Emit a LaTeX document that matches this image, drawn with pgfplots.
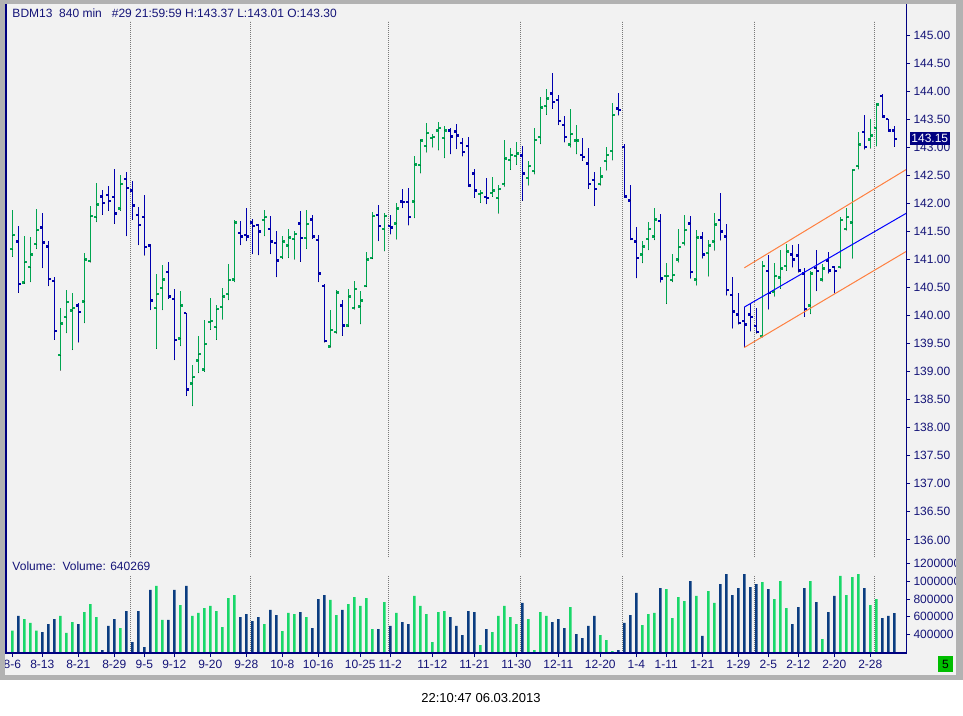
\documentclass[border=0pt]{standalone}
\usepackage{pgfplots}
\usepackage{pgfplotstable}
\pgfplotsset{compat=1.18}
\usepackage{fontspec}
\setmainfont{Liberation Sans}

\definecolor{bg}{RGB}{242,242,242}
\definecolor{bordergray}{RGB}{178,178,178}
\definecolor{pgreen}{RGB}{0,165,80}
\definecolor{pblue}{RGB}{0,0,175}
\definecolor{vgreen}{RGB}{25,215,105}
\definecolor{vblue}{RGB}{10,60,128}
\definecolor{axnavy}{RGB}{0,0,128}
\definecolor{tnavy}{RGB}{20,20,120}
\definecolor{lblnavy}{RGB}{0,0,128}
\definecolor{trendblue}{RGB}{0,0,255}
\definecolor{trendorange}{RGB}{255,128,64}
\definecolor{gridgray}{RGB}{120,120,120}
\definecolor{boxgreen}{RGB}{0,190,0}

\pgfplotstableread{
i O H L C up vu vol
0 141.18 141.88 141.05 141.43 1 1 441000
1 141.32 141.60 140.41 140.56 0 0 607000
2 140.59 141.42 140.57 140.95 1 1 573000
3 140.86 141.40 140.60 141.09 1 1 528000
4 141.27 141.90 141.19 141.52 1 1 441000
5 141.57 141.83 140.85 141.30 0 0 426000
6 141.23 141.33 140.53 140.65 0 0 516000
7 140.61 140.69 139.57 139.72 0 0 573000
8 139.29 140.13 139.02 139.86 1 1 607000
9 139.97 140.46 139.69 140.24 1 1 415000
10 140.09 140.40 139.39 140.13 1 1 539000
11 140.18 140.22 139.52 140.06 0 0 516000
12 140.25 141.11 139.87 141.00 1 1 652000
13 140.97 141.95 140.95 141.77 1 1 742000
14 141.75 142.36 141.67 141.98 1 1 595000
15 142.12 142.24 141.80 142.00 0 0 222000
16 142.15 142.31 141.87 142.04 0 0 494000
17 142.11 142.61 141.64 141.82 0 0 573000
18 141.91 142.51 141.87 142.34 1 1 471000
19 142.43 142.56 141.42 142.27 0 0 663000
20 142.23 142.40 141.71 141.96 0 0 313000
21 141.79 141.93 141.26 141.61 0 0 663000
22 141.75 142.15 141.07 141.22 0 0 256000
23 141.25 141.27 140.10 140.27 0 0 901000
24 140.13 140.74 139.41 140.38 1 1 946000
25 140.49 140.90 140.10 140.64 1 1 562000
26 140.77 140.95 140.30 140.34 0 0 562000
27 140.29 140.47 139.21 139.56 0 0 901000
28 139.59 140.44 139.46 140.18 1 1 731000
29 140.04 140.05 138.57 138.68 0 0 946000
30 138.79 139.12 138.39 138.90 1 1 607000
31 139.20 139.63 138.98 139.31 1 1 641000
32 139.04 139.92 139.00 139.49 1 1 697000
33 139.88 140.31 139.75 139.90 1 1 720000
34 139.79 140.19 139.57 140.11 1 1 663000
35 140.15 140.49 139.93 140.34 1 1 482000
36 140.38 140.92 140.28 140.63 1 1 810000
37 140.64 141.70 140.60 141.66 1 1 844000
38 141.47 141.68 141.26 141.41 0 0 595000
39 141.43 141.92 141.33 141.41 0 0 629000
40 141.66 141.72 141.10 141.59 0 0 550000
41 141.61 141.64 141.08 141.50 0 0 595000
42 141.70 141.88 141.42 141.75 1 1 516000
43 141.54 141.77 141.10 141.32 0 0 675000
44 141.29 141.50 140.69 140.98 0 0 618000
45 141.04 141.41 141.01 141.32 1 1 437000
46 141.25 141.54 141.03 141.39 1 1 641000
47 141.36 141.50 141.00 141.45 1 1 629000
48 141.64 141.86 140.96 141.38 0 0 652000
49 141.38 141.88 141.19 141.63 1 1 595000
50 141.71 141.79 141.37 141.41 0 0 471000
51 141.34 141.43 140.60 140.75 0 0 799000
52 140.52 140.56 139.52 139.54 0 0 844000
53 139.45 140.09 139.43 139.74 1 1 788000
54 139.70 140.46 139.68 140.41 1 1 618000
55 140.18 140.27 139.64 139.82 0 0 675000
56 139.82 140.47 139.80 140.34 1 1 742000
57 140.14 140.61 140.11 140.47 1 1 821000
58 140.16 140.44 139.85 140.27 1 1 720000
59 140.52 141.13 140.51 141.00 1 1 810000
60 141.02 141.84 141.01 141.77 1 1 460000
61 141.79 141.97 141.33 141.59 0 0 460000
62 141.54 141.83 141.15 141.77 1 1 765000
63 141.59 141.79 141.45 141.57 0 0 494000
64 141.64 142.00 141.36 141.91 1 1 641000
65 142.03 142.25 141.92 142.02 0 0 539000
66 142.02 142.27 141.61 141.75 0 0 516000
67 142.03 142.84 141.74 142.69 1 1 833000
68 142.68 143.15 142.54 143.12 1 1 720000
69 143.02 143.43 142.91 143.25 1 1 629000
70 143.16 143.24 143.00 143.18 1 1 313000
71 143.30 143.45 142.95 143.34 1 1 652000
72 143.16 143.38 142.81 143.30 1 1 663000
73 143.30 143.34 142.88 143.19 0 0 595000
74 143.28 143.41 142.97 143.21 0 0 494000
75 143.07 143.16 142.84 142.91 0 0 392000
76 143.02 143.18 142.30 142.32 0 0 663000
77 142.53 142.61 142.10 142.23 0 0 652000
78 142.16 142.23 142.01 142.18 1 1 279000
79 142.11 142.45 141.99 142.09 0 0 460000
80 142.19 142.47 142.12 142.23 1 1 426000
81 142.09 142.32 141.82 142.25 1 1 607000
82 142.35 143.13 142.30 142.80 1 1 720000
83 142.77 142.99 142.60 142.86 1 1 595000
84 142.84 143.09 142.69 142.89 1 1 516000
85 142.85 143.02 142.05 142.53 0 0 754000
86 142.45 142.75 142.32 142.66 1 1 573000
87 142.57 143.34 142.52 143.13 1 1 222000
88 143.18 143.89 143.06 143.71 1 1 652000
89 143.73 144.04 143.58 143.87 1 1 607000
90 143.96 144.32 143.69 143.80 0 0 539000
91 143.84 143.93 143.40 143.47 0 0 573000
92 143.39 143.56 143.09 143.18 0 0 471000
93 143.05 143.69 143.00 143.23 1 1 708000
94 143.12 143.40 142.88 143.12 1 0 403000
95 142.86 143.16 142.76 142.82 0 0 358000
96 142.71 142.99 142.26 142.34 0 0 494000
97 142.41 142.56 141.96 142.25 0 0 607000
98 142.34 142.65 142.32 142.48 1 1 392000
99 142.75 143.00 142.59 142.86 1 1 335000
100 142.93 143.79 142.77 143.57 1 1 211000
101 143.69 143.97 143.57 143.66 0 0 222000
102 143.00 143.06 142.10 142.12 0 0 528000
103 142.05 142.32 141.35 141.36 0 0 618000
104 141.32 141.58 140.67 141.02 0 0 867000
105 141.09 141.33 140.94 141.23 1 1 505000
106 141.36 141.67 141.17 141.54 1 1 629000
107 141.41 141.92 141.35 141.71 1 1 641000
108 141.68 141.81 140.59 140.66 0 0 923000
109 140.70 140.94 140.21 140.70 1 1 912000
110 140.63 141.10 140.60 140.72 1 1 584000
111 141.00 141.54 140.95 141.22 1 1 821000
112 141.29 141.79 141.25 141.52 1 1 776000
113 141.64 141.77 140.66 140.77 0 0 1002000
114 140.64 141.52 140.54 141.39 1 1 833000
115 141.39 141.48 141.02 141.09 0 0 381000
116 141.11 141.35 140.70 141.25 1 1 889000
117 141.32 141.83 141.16 141.62 1 1 754000
118 141.70 142.18 141.34 141.50 0 0 968000
119 141.41 141.63 140.36 140.45 0 0 1081000
120 140.36 140.69 139.77 140.07 0 0 844000
121 140.02 140.41 139.84 139.87 0 0 923000
122 139.90 140.15 139.43 139.84 0 0 1081000
123 140.02 140.22 139.72 139.97 0 0 934000
124 139.81 140.13 139.68 139.70 0 0 968000
125 139.63 140.97 139.61 140.88 1 1 991000
126 140.79 141.07 140.11 140.40 0 0 912000
127 140.43 140.93 140.34 140.70 1 1 799000
128 140.68 141.16 140.48 140.84 1 1 1002000
129 140.88 141.27 140.80 141.14 1 1 697000
130 141.09 141.25 140.86 141.00 0 0 516000
131 141.07 141.27 140.77 140.80 0 0 708000
132 140.75 140.84 139.98 140.11 0 0 923000
133 140.18 140.79 140.03 140.75 1 1 1002000
134 140.85 141.17 140.44 140.79 0 0 765000
135 140.64 140.92 140.61 140.84 1 1 347000
136 140.98 141.13 140.75 140.80 0 0 652000
137 140.86 140.88 140.40 140.79 0 0 833000
138 140.86 141.76 140.84 141.70 1 1 1059000
139 141.54 141.91 141.52 141.75 1 1 844000
140 141.66 142.61 141.02 142.59 1 1 1047000
141 142.66 143.27 142.61 143.05 1 1 1081000
142 143.27 143.57 142.96 143.00 0 0 923000
143 143.14 143.50 142.98 143.21 1 1 731000
144 143.34 143.78 143.02 143.76 1 1 799000
145 143.91 143.95 143.53 143.55 0 0 584000
146 143.50 143.50 143.28 143.30 0 0 607000
147 143.30 143.37 143.01 143.15 0 0 640269
}\bars

\pgfplotsset{
  every axis/.append style={
    scale only axis,
    axis line style={draw=none},
    clip mode=individual,
    tick align=outside,
    major tick length=4pt,
    tick style={draw=axnavy, line width=0.8pt},
    tick label style={font=\fontsize{12}{14}\selectfont, text=tnavy},
    /pgf/number format/assume math mode=true,
  },
  ohlc/.style={only marks, mark=*, mark size=0.01pt, mark options={draw=none, fill=none}},
}

\begin{document}
\begin{tikzpicture}[x=1pt,y=1pt]
\path[use as bounding box] (0,0) rectangle (963,-715);
\fill[white] (0,0) rectangle (963,-715);
\fill[bg] (0,0) rectangle (963,-680);

% ---------------- price panel ----------------
\begin{axis}[
  at={(6pt,-557pt)}, anchor=south west,
  width=900pt, height=552pt,
  xmin=-1.05, xmax=148.95, ymin=135.695, ymax=145.535,
  xtick=\empty,
  ytick={136,136.5,137,137.5,138,138.5,139,139.5,140,140.5,141,141.5,142,142.5,143,143.5,144,144.5,145},
  ytick pos=right, yticklabel pos=right,
  yticklabel style={/pgf/number format/.cd, fixed, fixed zerofill, precision=2},
]
\pgfplotsinvokeforeach{19.67,39.67,62.67,84.67,101.67,123.67,143.67}{
  \draw[gridgray, line width=1pt, dash pattern=on 1pt off 1pt] (axis cs:#1,135.695) -- (axis cs:#1,145.25);
}
% up bars
\addplot[ohlc, restrict expr to domain={\thisrow{up}}{0.5:1.5},
  error bars/.cd, y dir=plus, y explicit, error mark=none,
  error bar style={draw=pgreen, line width=1.1pt}]
  table[x=i, y=L, y error expr=\thisrow{H}-\thisrow{L}] {\bars};
\addplot[ohlc, restrict expr to domain={\thisrow{up}}{0.5:1.5},
  error bars/.cd, x dir=minus, x fixed=0.45, error mark=none,
  error bar style={draw=pgreen, line width=2.3pt}]
  table[x=i, y=O] {\bars};
\addplot[ohlc, restrict expr to domain={\thisrow{up}}{0.5:1.5},
  error bars/.cd, x dir=plus, x fixed=0.45, error mark=none,
  error bar style={draw=pgreen, line width=2.3pt}]
  table[x=i, y=C] {\bars};
% down bars
\addplot[ohlc, restrict expr to domain={\thisrow{up}}{-0.5:0.5},
  error bars/.cd, y dir=plus, y explicit, error mark=none,
  error bar style={draw=pblue, line width=1.1pt}]
  table[x=i, y=L, y error expr=\thisrow{H}-\thisrow{L}] {\bars};
\addplot[ohlc, restrict expr to domain={\thisrow{up}}{-0.5:0.5},
  error bars/.cd, x dir=minus, x fixed=0.45, error mark=none,
  error bar style={draw=pblue, line width=2.3pt}]
  table[x=i, y=O] {\bars};
\addplot[ohlc, restrict expr to domain={\thisrow{up}}{-0.5:0.5},
  error bars/.cd, x dir=plus, x fixed=0.45, error mark=none,
  error bar style={draw=pblue, line width=2.3pt}]
  table[x=i, y=C] {\bars};
% regression channel
\addplot[trendblue, line width=1pt] coordinates {(122,140.15) (148.95,141.82)};
\addplot[trendorange, line width=1pt] coordinates {(122,140.85) (148.95,142.60)};
\addplot[trendorange, line width=1pt] coordinates {(122,139.43) (148.95,141.14)};
\coordinate (lastpx) at (axis cs:148.95,143.15);
\end{axis}

% ---------------- volume panel ----------------
\begin{axis}[
  at={(6pt,-653pt)}, anchor=south west,
  width=900pt, height=96pt,
  xmin=-1.05, xmax=148.95, ymin=188700, ymax=1273500,
  ybar, bar width=2.5pt, bar shift=0pt,
  xtick={0,5,11,17,22,27,33,39,45,51,58,63,70,77,84,91,98,104,109,115,121,126,131,137,143},
  xticklabels={8-6,8-13,8-21,8-29,9-5,9-12,9-20,9-28,10-8,10-16,10-25,11-2,11-12,11-21,11-30,12-11,12-20,1-4,1-11,1-21,1-29,2-5,2-12,2-20,2-28},
  xtick pos=left, xticklabel pos=left,
  ytick={400000,600000,800000,1000000,1200000},
  ytick pos=right, yticklabel pos=right,
  scaled y ticks=false,
  yticklabel style={/pgf/number format/.cd, fixed, 1000 sep={}},
]
\pgfplotsinvokeforeach{19.67,39.67,62.67,84.67,101.67,123.67,143.67}{
  \draw[gridgray, line width=1pt, dash pattern=on 1pt off 1pt] (axis cs:#1,188700) -- (axis cs:#1,1070100);
}
\addplot[fill=vgreen, draw=none, restrict expr to domain={\thisrow{vu}}{0.5:1.5}] table[x=i, y=vol] {\bars};
\addplot[fill=vblue, draw=none, restrict expr to domain={\thisrow{vu}}{-0.5:0.5}] table[x=i, y=vol] {\bars};
\end{axis}

% axis lines
\draw[axnavy, line width=2pt] (6,-4) -- (6,-653.6);
\draw[axnavy, line width=1pt] (906,-4) -- (906,-653.6);
\draw[axnavy, line width=1.3pt] (6,-653) -- (906,-653);

% last price box
\node[fill=lblnavy, text=white, font=\fontsize{12}{14}\selectfont, inner sep=1.5pt,
  minimum height=13.4pt, anchor=west, xshift=3.7pt] at (lastpx) {143.15};

% texts
\node[anchor=base west, inner sep=0, text=tnavy, font=\fontsize{12}{14}\selectfont]
  at (12.3,-17.3) {BDM13\ \ 840 min\ \ \ \#29 21:59:59 H:143.37 L:143.01 O:143.30};
\node[anchor=base west, inner sep=0, text=tnavy, font=\fontsize{12}{14}\selectfont]
  at (12.3,-570.7) {Volume:\ \ Volume: 640269};

% window border
\fill[bordergray] (0,0) rectangle (5,-680);
\fill[bordergray] (0,0) rectangle (963,-4);
\fill[bordergray] (956,0) rectangle (963,-680);
\fill[bordergray] (0,-675) rectangle (963,-680);

% green status box
\fill[boxgreen] (938,-656) rectangle (953,-672);
\node[font=\fontsize{12}{14}\selectfont, inner sep=0] at (945.5,-664) {5};

% timestamp
\node[anchor=base, inner sep=0, font=\fontsize{13}{15}\selectfont] at (481,-702.7) {22:10:47 06.03.2013};
\end{tikzpicture}
\end{document}
